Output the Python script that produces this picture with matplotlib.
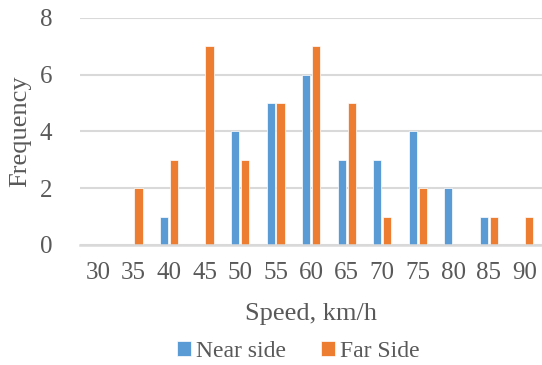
import matplotlib
matplotlib.use('Agg')
import matplotlib.pyplot as plt
import numpy as np

plt.rcParams.update({'font.family': 'Liberation Serif', 'font.size': 18})
TXT = '#595959'; BLUE = '#5B9BD5'; ORANGE = '#ED7D31'; GRID = '#D9D9D9'

speeds = [30, 35, 40, 45, 50, 55, 60, 65, 70, 75, 80, 85, 90]
near = [0, 0, 1, 0, 4, 5, 6, 3, 3, 4, 2, 1, 0]
far = [0, 2, 3, 7, 3, 5, 7, 5, 1, 2, 0, 1, 1]

fig = plt.figure(figsize=(5.42, 3.65), dpi=100)
ax = fig.add_axes([0.148, 0.329, 0.852, 0.622])
x = np.arange(len(speeds))
w = 0.23
ax.bar(x - 0.14, near, width=w, color=BLUE, edgecolor='white', linewidth=0.5, label='Near side', zorder=3)
ax.bar(x + 0.14, far, width=w, color=ORANGE, edgecolor='white', linewidth=0.5, label='Far Side', zorder=3)

ax.set_xlim(-0.5, len(speeds) - 0.5)
ax.set_ylim(0, 8)
ax.set_yticks(range(0, 9, 2))
ax.set_xticks(x)
ax.set_xticklabels([str(s) for s in speeds])
ax.yaxis.grid(True, color=GRID, lw=1.5, zorder=0)
for s in ['top', 'right', 'left']:
    ax.spines[s].set_visible(False)
ax.spines['bottom'].set_color(GRID)
ax.spines['bottom'].set_linewidth(1.8)
ax.spines['bottom'].set_zorder(4)
ax.tick_params(length=0, colors=TXT, labelsize=18)
ax.tick_params(axis='x', pad=12)
ax.tick_params(axis='y', pad=20)
ax.set_xlabel('Speed, km/h', color=TXT, fontsize=19, labelpad=14)
ax.set_ylabel('Frequency', color=TXT, fontsize=19, labelpad=6)
leg = ax.legend(loc='center', bbox_to_anchor=(0.472, -0.47), ncol=2, frameon=False,
                fontsize=17, handlelength=0.6, handleheight=0.6, handletextpad=0.2,
                columnspacing=1.5, borderpad=0.1)
for t in leg.get_texts():
    t.set_color(TXT)
fig.savefig('out.png', dpi=100)
